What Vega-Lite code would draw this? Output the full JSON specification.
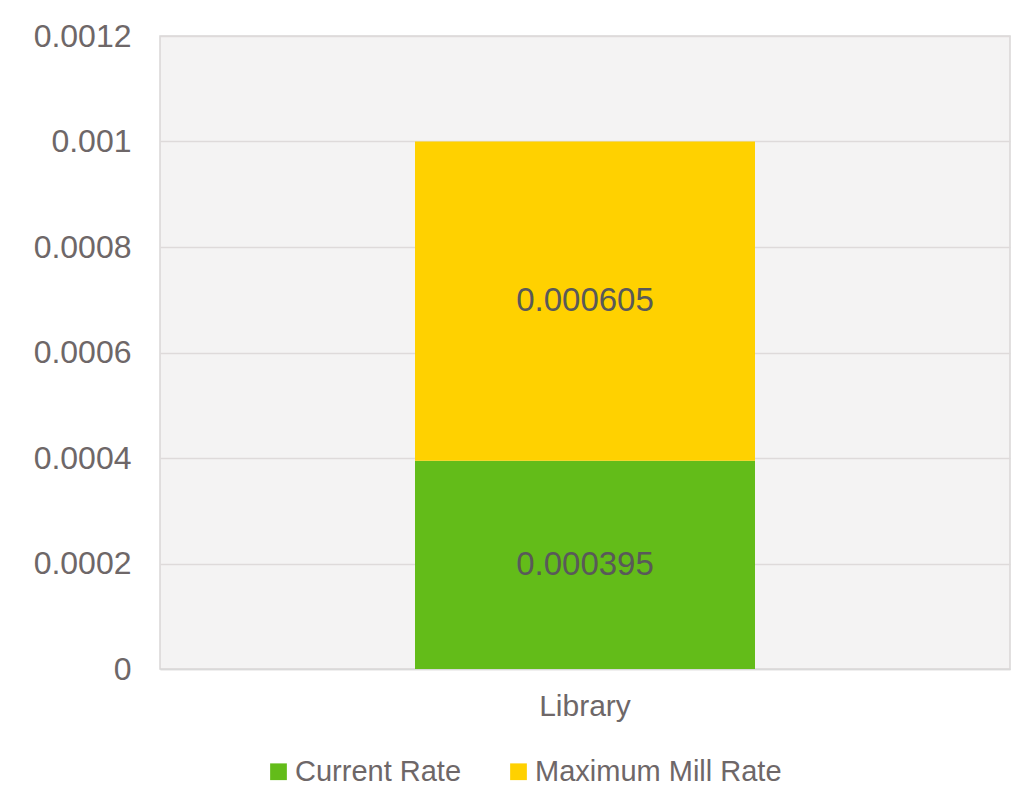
{
  "$schema": "https://vega.github.io/schema/vega-lite/v6.json",
  "autosize": {"type": "none"},
  "width": 850,
  "height": 633,
  "padding": {"left": 160, "top": 36, "right": 10, "bottom": 137},
  "background": "white",
  "data": {"values": [
    {"category": "Library", "series": "Current Rate", "value": 0.000395, "order": 1},
    {"category": "Library", "series": "Maximum Mill Rate", "value": 0.000605, "order": 2}
  ]},
  "transform": [
    {"stack": "value", "groupby": ["category"], "sort": [{"field": "order"}], "as": ["v0", "v1"]},
    {"calculate": "(datum.v0 + datum.v1) / 2", "as": "mid"}
  ],
  "encoding": {
    "x": {"field": "category", "type": "nominal", "title": null,
      "scale": {"paddingOuter": 0, "paddingInner": 0},
      "axis": {"labelAngle": 0, "labelFont": "Liberation Sans", "labelFontSize": 30, "labelColor": "#6e6768", "ticks": false, "domain": true, "domainColor": "#d9d9d9", "domainWidth": 1.5, "labelPadding": 22}}
  },
  "layer": [
    {
      "mark": {"type": "bar", "width": {"band": 0.4}},
      "encoding": {
        "y": {"field": "v0", "type": "quantitative", "title": null,
          "scale": {"domain": [0, 0.0012]},
          "axis": {"values": [0, 0.0002, 0.0004, 0.0006, 0.0008, 0.001, 0.0012], "format": "~g", "labelFont": "Liberation Sans", "labelFontSize": 32, "labelColor": "#6e6768", "ticks": false, "domain": false, "grid": true, "gridColor": "#dedada", "gridWidth": 1.5, "labelPadding": 29}},
        "y2": {"field": "v1"},
        "color": {"field": "series", "type": "nominal", "title": null,
          "scale": {"domain": ["Current Rate", "Maximum Mill Rate"], "range": ["#63bc19", "#ffd100"]},
          "legend": {"orient": "none", "legendX": 104, "legendY": 721, "direction": "horizontal", "symbolType": "square", "symbolSize": 280, "symbolStrokeWidth": 0, "labelFont": "Liberation Sans", "labelFontSize": 29, "labelColor": "#6e6768", "labelLimit": 400, "columnPadding": 42, "labelOffset": 2}}
      }
    },
    {
      "mark": {"type": "text", "font": "Liberation Sans", "fontSize": 33, "color": "#595959", "baseline": "middle", "align": "center"},
      "encoding": {
        "y": {"field": "mid", "type": "quantitative"},
        "text": {"field": "value", "type": "quantitative", "format": ".6f"}
      }
    }
  ],
  "config": {
    "view": {"fill": "#f4f3f3", "stroke": "#d9d6d6", "strokeWidth": 1.5}
  }
}
